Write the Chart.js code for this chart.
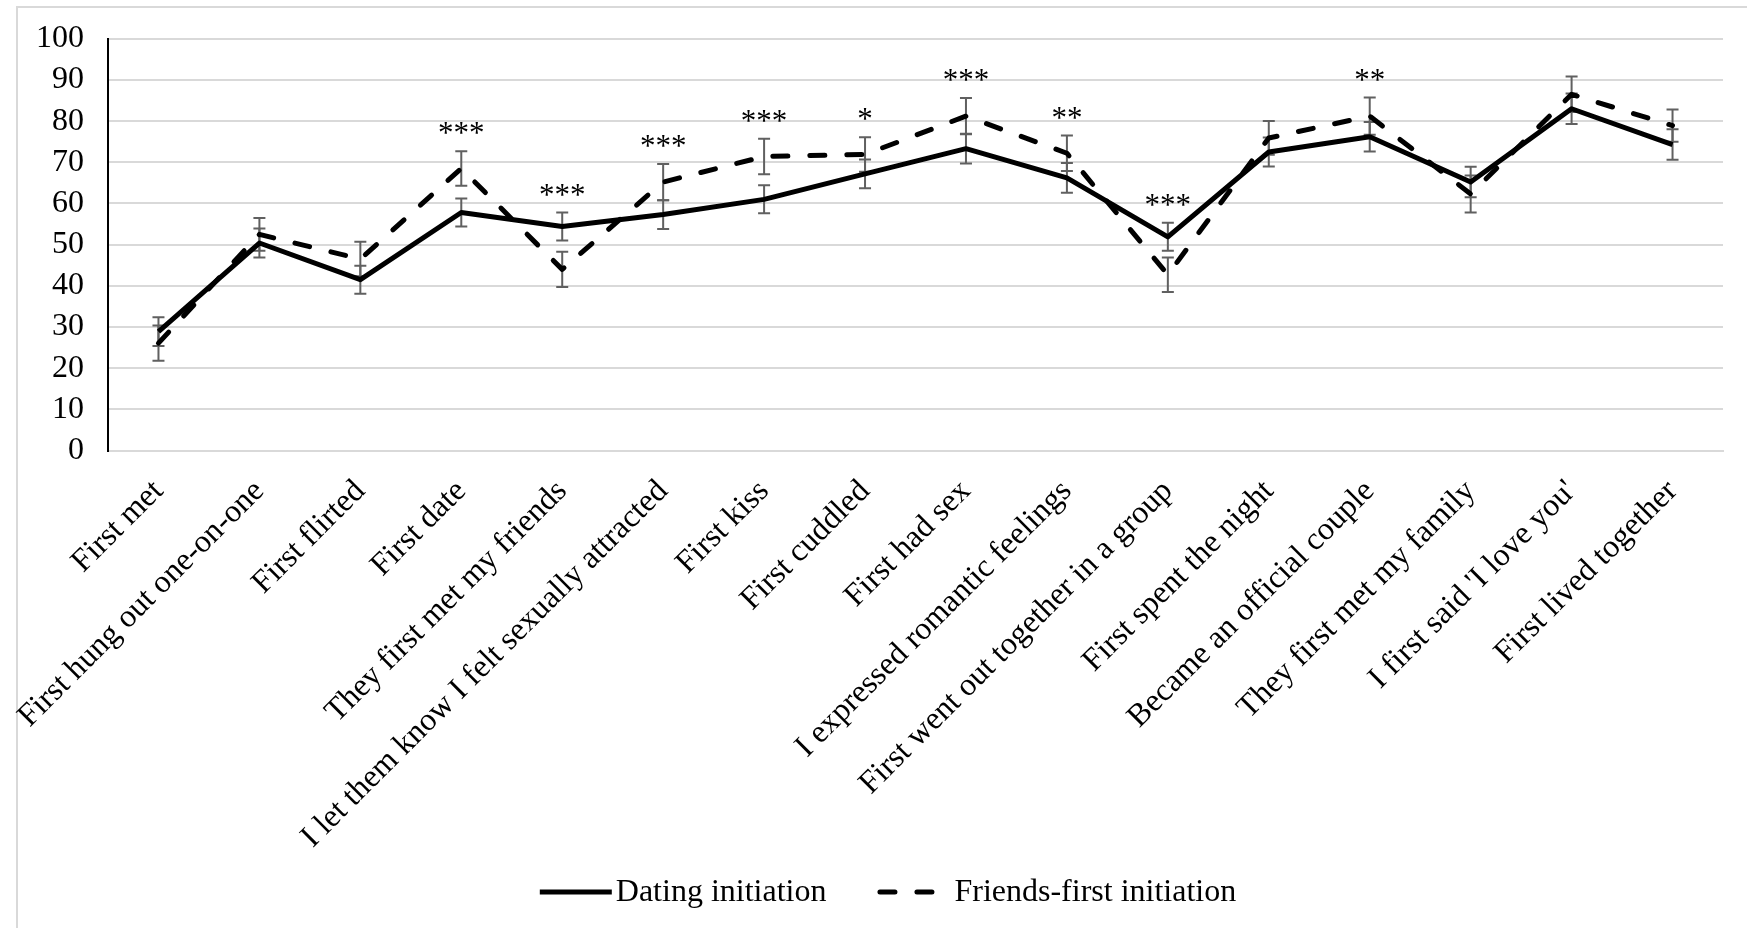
<!DOCTYPE html>
<html>
<head>
<meta charset="utf-8">
<script src="https://cdn.jsdelivr.net/npm/chart.js@4.4.1/dist/chart.umd.min.js"></script>
<style>
  html, body { margin: 0; padding: 0; background: #fff; }
  #wrap { position: relative; width: 1747px; height: 928px; }
  #frame { position: absolute; left: 16px; top: 6px; right: 0; bottom: 0;
           border-top: 2px solid #d9d9d9; border-left: 2px solid #d9d9d9; }
  #milestones { position: absolute; left: 0; top: 0; }
</style>
</head>
<body>
<div id="wrap">
  <div id="frame"></div>
  <canvas id="milestones" width="1747" height="928"></canvas>
</div>
<script>
// relationship milestones, mean % per initiation type
const milestones = [
  "First met", "First hung out one-on-one", "First flirted", "First date",
  "They first met my friends", "I let them know I felt sexually attracted",
  "First kiss", "First cuddled", "First had sex", "I expressed romantic feelings",
  "First went out together in a group", "First spent the night",
  "Became an official couple", "They first met my family",
  "I first said 'I love you'", "First lived together"
];
const datingMeans  = [28.9, 50.4, 41.5, 57.8, 54.4, 57.3, 61.0, 67.2, 73.3, 66.2, 51.9, 72.5, 76.2, 65.2, 83.0, 74.3];
const friendsMeans = [26.1, 52.5, 46.5, 68.5, 44.0, 65.2, 71.4, 71.9, 81.2, 72.2, 42.7, 75.9, 81.2, 62.3, 86.5, 78.9];
const datingErr    = [3.5, 3.5, 3.4, 3.4, 3.4, 3.5, 3.4, 3.5, 3.6, 3.6, 3.4, 3.5, 3.6, 3.7, 3.7, 3.7];
const friendsErr   = [4.3, 4.0, 4.2, 4.2, 4.3, 4.4, 4.3, 4.2, 4.4, 4.3, 4.2, 4.1, 4.5, 4.5, 4.3, 3.9];
const significance = ["", "", "", "***", "***", "***", "***", "*", "***", "**", "***", "", "**", "", "", ""];
const yTicks = [0, 10, 20, 30, 40, 50, 60, 70, 80, 90, 100];

const serif = "'Liberation Serif', 'Times New Roman', serif";

// +/- error bars, drawn underneath the lines
const errorBars = {
  id: 'errorBars',
  beforeDatasetsDraw(chart) {
    const { ctx, scales: { y } } = chart;
    const cap = 6;
    ctx.save();
    ctx.strokeStyle = '#606060';
    ctx.lineWidth = 2;
    chart.data.datasets.forEach((ds, i) => {
      chart.getDatasetMeta(i).data.forEach((pt, j) => {
        const hi = y.getPixelForValue(ds.data[j] + ds.errors[j]);
        const lo = y.getPixelForValue(ds.data[j] - ds.errors[j]);
        ctx.beginPath();
        ctx.moveTo(pt.x, hi); ctx.lineTo(pt.x, lo);
        ctx.moveTo(pt.x - cap, hi); ctx.lineTo(pt.x + cap, hi);
        ctx.moveTo(pt.x - cap, lo); ctx.lineTo(pt.x + cap, lo);
        ctx.stroke();
      });
    });
    ctx.restore();
  }
};

// significance stars above the taller error bar
const sigStars = {
  id: 'sigStars',
  afterDatasetsDraw(chart) {
    const { ctx, scales: { y } } = chart;
    const sets = chart.data.datasets;
    ctx.save();
    ctx.fillStyle = '#000';
    ctx.font = '31px ' + serif;
    ctx.textAlign = 'center';
    ctx.textBaseline = 'alphabetic';
    significance.forEach((s, j) => {
      if (!s) return;
      const top = Math.max(...sets.map(ds => ds.data[j] + ds.errors[j]));
      const x = chart.getDatasetMeta(0).data[j].x;
      ctx.fillText(s, x, y.getPixelForValue(top) - 8);
    });
    ctx.restore();
  }
};

// legend row under the axis labels: line sample + series name
const lineLegend = {
  id: 'lineLegend',
  afterDraw(chart) {
    const { ctx } = chart;
    const sets = chart.data.datasets;
    const samples = [72, 60], gapAfter = [4, 17], spacing = 51;
    ctx.save();
    ctx.font = '32px ' + serif;
    const widths = sets.map(ds => ctx.measureText(ds.label).width);
    let total = spacing * (sets.length - 1);
    sets.forEach((ds, i) => { total += samples[i] + gapAfter[i] + widths[i]; });
    let x = 888 - total / 2;
    const yMid = 892;
    sets.forEach((ds, i) => {
      ctx.strokeStyle = ds.borderColor;
      ctx.lineWidth = ds.borderWidth;
      ctx.lineCap = ds.borderDash ? 'round' : 'butt';
      ctx.setLineDash(ds.borderDash || []);
      ctx.beginPath();
      const pad = ds.borderDash ? ds.borderWidth / 2 : 0;
      ctx.moveTo(x + pad, yMid);
      ctx.lineTo(x + samples[i] - pad, yMid);
      ctx.stroke();
      x += samples[i] + gapAfter[i];
      ctx.fillStyle = '#000';
      ctx.textBaseline = 'middle';
      ctx.fillText(ds.label, x, yMid + 1);
      x += widths[i] + spacing;
    });
    ctx.restore();
  }
};

new Chart("milestones", {
  type: "line",
  data: {
    labels: milestones,
    datasets: [
      {
        label: "Dating initiation",
        data: datingMeans,
        errors: datingErr,
        borderColor: "#000",
        backgroundColor: "#000",
        borderWidth: 5,
        borderJoinStyle: "round",
        pointRadius: 0,
        fill: false
      },
      {
        label: "Friends-first initiation",
        data: friendsMeans,
        errors: friendsErr,
        borderColor: "#000",
        backgroundColor: "#000",
        borderWidth: 5,
        borderDash: [15, 22],
        borderCapStyle: "round",
        borderJoinStyle: "round",
        pointRadius: 0,
        fill: false
      }
    ]
  },
  options: {
    responsive: false,
    animation: false,
    layout: { padding: { left: 12, right: 24, top: 3, bottom: 50 } },
    scales: {
      x: {
        offset: true,
        grid: { display: false, drawTicks: false },
        border: { color: "#d9d9d9", width: 2 },
        ticks: {
          autoSkip: false, maxRotation: 45, minRotation: 45, padding: 22,
          color: "#000", font: { family: serif, size: 32 }
        }
      },
      y: {
        min: 0, max: 100,
        afterBuildTicks(axis) { axis.ticks = yTicks.map(v => ({ value: v })); },
        grid: { color: "#d9d9d9", lineWidth: 2, drawTicks: false },
        border: { color: "#000", width: 2 },
        ticks: {
          autoSkip: false, padding: 24, color: "#000",
          font: { family: serif, size: 32, lineHeight: 0.92 }
        }
      }
    },
    plugins: {
      tooltip: { enabled: false },
      legend: { display: false }
    }
  },
  plugins: [errorBars, sigStars, lineLegend]
});
</script>
</body>
</html>
